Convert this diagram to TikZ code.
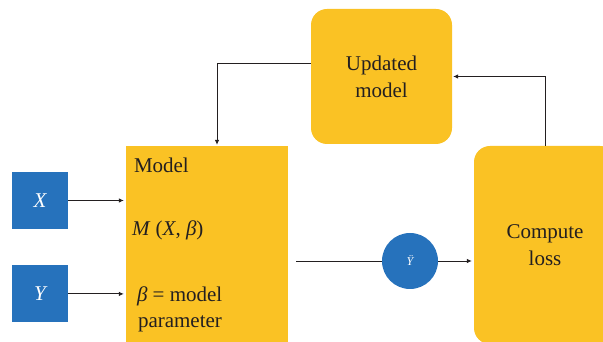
\documentclass[tikz,border=0pt]{standalone}
\usepackage{fontspec}
\setmainfont{Liberation Serif}
\usetikzlibrary{arrows.meta, positioning}
\definecolor{boxyellow}{RGB}{250,194,36}
\definecolor{boxblue}{RGB}{38,114,188}
\definecolor{inkgray}{RGB}{35,31,32}

\begin{document}
\begin{tikzpicture}[
    x=1pt, y=1pt,
    inbox/.style={fill=boxblue, minimum width=56pt, minimum height=57pt, inner sep=0pt, text=white, font=\fontsize{21}{27}\selectfont\itshape},
    block/.style={fill=boxyellow, rounded corners=16pt, minimum width=142pt, align=center, inner sep=0pt, text=inkgray, font=\fontsize{21}{27}\selectfont},
    lbl/.style={anchor=base west, inner sep=0pt, text=inkgray, font=\fontsize{21}{27}\selectfont},
    ln/.style={draw=inkgray, line width=0.8pt},
    ar/.style={ln, -{Latex[length=5pt, width=4.5pt]}},
]
\useasboundingbox (0,0) rectangle (603,342);
% inputs
\node[inbox] (xin) at (40,141.5) {X};
\node[inbox, below=36pt of xin] (yin) {Y};
% model box with its notes
\node[fill=boxyellow, minimum width=162pt, minimum height=200pt, inner sep=0pt] (model) at (207,96) {};
\node[lbl] (mtitle) at ([shift={(8,-27)}]model.north west) {Model};
\node[lbl] (mfunc) at ([shift={(6,-90)}]model.north west) {\textit{M} (\textit{X}, \textit{β})};
\node[lbl] (mparam) at ([shift={(11,-156)}]model.north west) {\textit{β} = model};
\node[lbl] (mparamb) at ([shift={(12,-182)}]model.north west) {parameter};
% output, loss and update
\node[circle, fill=boxblue, minimum size=56pt, inner sep=0pt, text=white, font=\fontsize{12}{14}\selectfont\itshape] (circ) at (410,81) {Ÿ};
\node[block, minimum height=198pt] (loss) at (545,97) {Compute\\loss};
\node[block, minimum width=141pt, minimum height=135pt] (upd) at (381.5,265.5) {Updated\\model};
\draw[ar, shorten >=2pt] (xin.east) -- (xin -| model.west);
\draw[ar, shorten >=2pt] (yin.east) -- (yin -| model.west);
\draw[ln] ([xshift=8pt]model.east |- circ) -- (circ);
\draw[ar, shorten >=2pt] (circ) -- (circ -| loss.west);
\draw[ar, shorten >=1pt] (loss.north) |- (upd.east);
\draw[ar, shorten >=1pt] ([yshift=13.5pt]upd.west) -| ([xshift=10pt]model.north);
\end{tikzpicture}
\end{document}
